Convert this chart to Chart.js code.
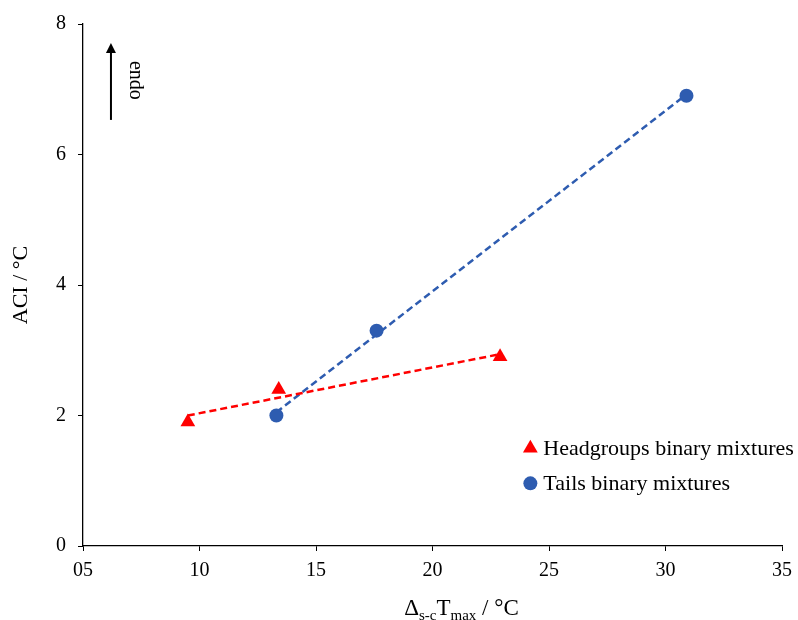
<!DOCTYPE html>
<html>
<head>
<meta charset="utf-8">
<script src="https://cdn.jsdelivr.net/npm/chart.js@4"></script>
<style>
  body { margin: 0; background: #fff; }
  #wrap { width: 798px; height: 620px; }
</style>
</head>
<body>
<div id="wrap"><canvas id="aciChart"></canvas></div>
<script>
const headX = [9.5, 13.4, 22.9];
const headY = [1.9, 2.4, 2.9];
const tailX = [13.3, 17.6, 30.9];
const tailY = [2.0, 3.3, 6.9];
// linear trend lines, end points
const headTrendX = [9.5, 22.9];
const headTrendY = [2.0, 2.94];
const tailTrendX = [13.3, 30.9];
const tailTrendY = [2.05, 6.92];
const xTickLabels = ["05", "10", "15", "20", "25", "30", "35"];
const yTickLabels = ["0", "2", "4", "6", "8"];
const seriesNames = ["Headgroups binary mixtures", "Tails binary mixtures"];

const RED = "#ff0000";
const BLUE = "#2e5cb0";
const FONT = "'Liberation Serif', 'Times New Roman', serif";

const pts = (xs, ys) => xs.map((x, i) => ({ x, y: ys[i] }));

// legend, endo arrow and the x title with subscripts
const extras = {
  id: "extras",
  afterDraw(chart) {
    const { ctx, chartArea, scales } = chart;
    const xs = scales.x, ys = scales.y;
    ctx.save();

    // endo arrow
    const ax = xs.getPixelForValue(6.2);
    const aBottom = ys.getPixelForValue(6.53);
    const aTip = ys.getPixelForValue(7.71);
    ctx.strokeStyle = "#000";
    ctx.fillStyle = "#000";
    ctx.lineWidth = 2;
    ctx.beginPath();
    ctx.moveTo(ax, aBottom);
    ctx.lineTo(ax, aTip + 8);
    ctx.stroke();
    ctx.beginPath();
    ctx.moveTo(ax, aTip);
    ctx.lineTo(ax - 5, aTip + 10);
    ctx.lineTo(ax + 5, aTip + 10);
    ctx.closePath();
    ctx.fill();

    ctx.save();
    ctx.translate(ax + 24, (aTip + aBottom) / 2 - 1);
    ctx.rotate(Math.PI / 2);
    ctx.font = "20px " + FONT;
    ctx.textAlign = "center";
    ctx.textBaseline = "middle";
    ctx.fillText("endo", 0, 0);
    ctx.restore();

    // legend
    const lx = xs.getPixelForValue(24.2);
    const rows = [ys.getPixelForValue(1.5), ys.getPixelForValue(0.96)];
    ctx.font = "22px " + FONT;
    ctx.textAlign = "left";
    ctx.textBaseline = "middle";
    rows.forEach((ry, i) => {
      if (i === 0) {
        ctx.fillStyle = RED;
        ctx.beginPath();
        ctx.moveTo(lx, ry - 8.5);
        ctx.lineTo(lx + 7.4, ry + 4.3);
        ctx.lineTo(lx - 7.4, ry + 4.3);
        ctx.closePath();
        ctx.fill();
      } else {
        ctx.fillStyle = BLUE;
        ctx.beginPath();
        ctx.arc(lx, ry, 7, 0, Math.PI * 2);
        ctx.fill();
      }
      ctx.fillStyle = "#000";
      ctx.fillText(seriesNames[i], lx + 13, ry + 1);
    });

    // x axis title: Δ(s-c) T(max) / °C
    const parts = [
      ["\u0394", 23, 0],
      ["s-c", 15, 5],
      ["T", 23, 0],
      ["max", 15, 5],
      [" / \u00b0C", 23, 0]
    ];
    ctx.textBaseline = "alphabetic";
    let total = 0;
    parts.forEach(([t, s]) => {
      ctx.font = s + "px " + FONT;
      total += ctx.measureText(t).width;
    });
    let tx = (chartArea.left + chartArea.right) / 2 + 29 - total / 2;
    const base = 615;
    parts.forEach(([t, s, dy]) => {
      ctx.font = s + "px " + FONT;
      ctx.fillText(t, tx, base + dy);
      tx += ctx.measureText(t).width;
    });

    ctx.restore();
  }
};

function renderChart() {
  const ctx = document.getElementById("aciChart").getContext("2d");
  new Chart(ctx, {
    type: "scatter",
    data: {
      datasets: [
        {
          label: seriesNames[0],
          data: pts(headX, headY),
          pointStyle: "triangle",
          pointRadius: 8.5,
          backgroundColor: RED,
          borderColor: RED,
          borderWidth: 0,
          order: 1
        },
        {
          label: seriesNames[1],
          data: pts(tailX, tailY),
          pointStyle: "circle",
          pointRadius: 7,
          backgroundColor: BLUE,
          borderColor: BLUE,
          borderWidth: 0,
          order: 1
        },
        {
          type: "line",
          data: pts(headTrendX, headTrendY),
          borderColor: RED,
          borderWidth: 2.5,
          borderDash: [7, 4],
          pointRadius: 0,
          fill: false,
          order: 2
        },
        {
          type: "line",
          data: pts(tailTrendX, tailTrendY),
          borderColor: BLUE,
          borderWidth: 2.5,
          borderDash: [7, 4],
          pointRadius: 0,
          fill: false,
          order: 2
        }
      ]
    },
    options: {
      responsive: true,
      maintainAspectRatio: false,
      animation: false,
      layout: { padding: { top: 22, right: 16, left: 0, bottom: 0 } },
      plugins: {
        legend: { display: false },
        tooltip: { enabled: false }
      },
      scales: {
        x: {
          type: "linear",
          min: 5,
          max: 35,
          afterFit: (s) => { s.height = 74; s.paddingRight = 0; },
          ticks: {
            stepSize: 5,
            padding: 8,
            color: "#000",
            font: { family: FONT, size: 20 },
            callback: (v, i) => xTickLabels[i]
          },
          grid: { drawOnChartArea: false, tickLength: 5, color: "#000" },
          border: { color: "#000", width: 1.3 }
        },
        y: {
          min: 0,
          max: 8,
          afterFit: (s) => { s.width = 83; },
          ticks: {
            stepSize: 2,
            padding: 12,
            color: "#000",
            font: { family: FONT, size: 20 },
            callback: (v) => yTickLabels[v / 2]
          },
          grid: { drawOnChartArea: false, tickLength: 5, color: "#000" },
          border: { color: "#000", width: 1.3 },
          title: {
            display: true,
            text: "ACI / \u00b0C",
            color: "#000",
            font: { family: FONT, size: 22 },
            padding: { top: 8, bottom: 0 }
          }
        }
      }
    },
    plugins: [extras]
  });
}

document.addEventListener("DOMContentLoaded", renderChart);
</script>
</body>
</html>
